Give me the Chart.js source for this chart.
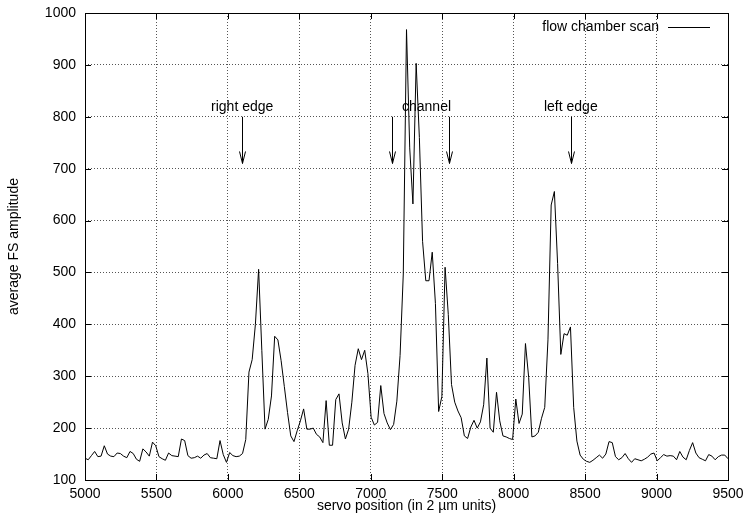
<!DOCTYPE html>
<html>
<head>
<meta charset="utf-8">
<script src="https://cdn.jsdelivr.net/npm/chart.js@4.4.1/dist/chart.umd.min.js"></script>
<style>
  html, body { margin: 0; padding: 0; background: #fff; }
  canvas { display: block; }
</style>
</head>
<body>
<canvas id="scan" width="743" height="517"></canvas>
<script>
// scan grid: servo position of the first sample and spacing between samples
const scanStart = 5000;
const scanStep = 22.5;

// average FS amplitude per servo step
const amplitude = [
  142, 139, 147, 155, 145, 146, 166, 150, 146, 145,
  152, 151, 146, 143, 155, 151, 140, 136, 160, 154,
  146, 173, 166, 145, 141, 138, 152, 147, 146, 145,
  179, 176, 147, 142, 143, 146, 142, 148, 151, 143,
  142, 141, 176, 149, 134, 153, 147, 145, 146, 151,
  178, 308, 332, 400, 506, 350, 198, 217, 262, 377,
  370, 330, 280, 230, 185, 174, 195, 214, 237, 198,
  198, 200, 188, 183, 172, 253, 167, 167, 255, 266,
  210, 179, 198, 250, 321, 353, 332, 350, 305, 221,
  206, 211, 282, 228, 210, 197, 207, 252, 340, 497,
  968, 740, 632, 903, 760, 560, 484, 484, 539, 440,
  232, 261, 510, 419, 284, 250, 233, 220, 185, 180,
  202, 215, 200, 212, 245, 335, 200, 192, 269, 214,
  185, 183, 180, 178, 256, 209, 227, 363, 298, 183,
  185, 192, 219, 240, 370, 630, 656, 517, 342, 382,
  379, 395, 240, 175, 148, 140, 136, 134, 138, 143,
  148, 142, 150, 174, 172, 145, 139, 143, 151, 141,
  134, 141, 139, 137, 140, 144, 150, 152, 137, 143,
  149, 146, 147, 146, 139, 155, 144, 139, 157, 172,
  152, 143, 140, 137, 149, 146, 139, 145, 148, 148,
  141
];

const xTicks = [5000, 5500, 6000, 6500, 7000, 7500, 8000, 8500, 9000, 9500];
const yTicks = [100, 200, 300, 400, 500, 600, 700, 800, 900, 1000];

// arrow annotations (servo position, amplitude)
const arrowX = [6100, 7150, 7550, 8400];
const arrowFrom = 800;
const arrowTo = 710;
const noteText = ['right edge', 'channel', 'left edge'];
const noteX = [6100, 7390, 8400];
const noteY = 819;

const seriesName = 'flow chamber scan';

const FONT = '"Liberation Sans", Arial, Helvetica, sans-serif';

const points = amplitude.map((v, i) => ({ x: scanStart + i * scanStep, y: v }));

// gnuplot-style frame: solid border, inward ticks on all sides, arrows, key
const framePlugin = {
  id: 'frame',
  afterDatasetsDraw(chart) {
    const { ctx, chartArea: a, scales } = chart;
    const sx = scales.x, sy = scales.y;
    const tick = 6;
    ctx.save();
    ctx.strokeStyle = '#000';
    ctx.lineWidth = 1;

    ctx.beginPath();
    xTicks.forEach(v => {
      const px = Math.round(sx.getPixelForValue(v)) + 0.5;
      ctx.moveTo(px, a.bottom); ctx.lineTo(px, a.bottom - tick);
      ctx.moveTo(px, a.top); ctx.lineTo(px, a.top + tick);
    });
    yTicks.forEach(v => {
      const py = Math.round(sy.getPixelForValue(v)) + 0.5;
      ctx.moveTo(a.left, py); ctx.lineTo(a.left + tick, py);
      ctx.moveTo(a.right, py); ctx.lineTo(a.right - tick, py);
    });
    ctx.stroke();

    ctx.strokeRect(Math.round(a.left) + 0.5, Math.round(a.top) + 0.5,
      Math.round(a.right - a.left), Math.round(a.bottom - a.top));

    // arrows
    const yTop = sy.getPixelForValue(arrowFrom);
    const yTip = sy.getPixelForValue(arrowTo);
    ctx.beginPath();
    arrowX.forEach(v => {
      const px = Math.round(sx.getPixelForValue(v)) + 0.5;
      ctx.moveTo(px, yTop); ctx.lineTo(px, yTip);
      ctx.moveTo(px - 3, yTip - 12); ctx.lineTo(px, yTip); ctx.lineTo(px + 3, yTip - 12);
    });
    ctx.stroke();

    ctx.fillStyle = '#000';
    ctx.font = '14px ' + FONT;
    ctx.textAlign = 'center';
    ctx.textBaseline = 'middle';
    noteText.forEach((t, i) => {
      ctx.fillText(t, sx.getPixelForValue(noteX[i]), sy.getPixelForValue(noteY));
    });

    // key
    const ky = 27.5;
    ctx.textAlign = 'right';
    ctx.fillText(seriesName, 659, ky);
    ctx.beginPath();
    ctx.moveTo(668, ky); ctx.lineTo(710, ky);
    ctx.stroke();
    ctx.restore();
  }
};

const plain = v => String(v);

new Chart(document.getElementById('scan'), {
  type: 'line',
  data: {
    datasets: [{
      label: seriesName,
      data: points,
      borderColor: '#000',
      borderWidth: 1,
      pointRadius: 0,
      tension: 0,
      fill: false
    }]
  },
  options: {
    responsive: false,
    animation: false,
    devicePixelRatio: 1,
    layout: { padding: { top: 13, right: 15, left: 0, bottom: 0 } },
    plugins: { legend: { display: false }, tooltip: { enabled: false } },
    scales: {
      x: {
        type: 'linear',
        min: 5000,
        max: 9500,
        afterBuildTicks: s => { s.ticks = xTicks.map(v => ({ value: v })); },
        afterFit: s => { s.height = 37; s.paddingLeft = 0; s.paddingRight = 0; },
        grid: { color: '#555', lineWidth: 1, drawTicks: false },
        border: { display: false, dash: [1, 2] },
        ticks: { color: '#000', font: { family: FONT, size: 14 }, padding: 6, maxRotation: 0, callback: plain },
        title: {
          display: true,
          text: 'servo position (in 2 \u00b5m units)',
          color: '#000',
          font: { family: FONT, size: 14 },
          padding: { top: 0, bottom: 2 }
        }
      },
      y: {
        min: 100,
        max: 1000,
        afterBuildTicks: s => { s.ticks = yTicks.map(v => ({ value: v })); },
        afterFit: s => { s.width = 85; s.paddingTop = 0; s.paddingBottom = 0; },
        grid: { color: '#555', lineWidth: 1, drawTicks: false },
        border: { display: false, dash: [1, 2] },
        ticks: { color: '#000', font: { family: FONT, size: 14 }, padding: 9, callback: plain },
        title: {
          display: true,
          text: 'average FS amplitude',
          color: '#000',
          font: { family: FONT, size: 14 },
          padding: { top: 6, bottom: 0 }
        }
      }
    }
  },
  plugins: [framePlugin]
});
</script>
</body>
</html>
